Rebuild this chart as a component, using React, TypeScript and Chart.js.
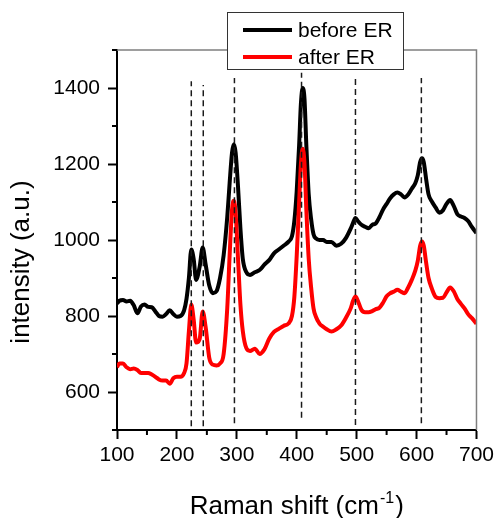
import React, { useEffect, useRef } from "react";
import { Chart, registerables } from "chart.js";

Chart.register(...registerables);

// ---- data ----
const ramanShift = [
  100, 104, 110, 116, 122, 128, 134, 140, 146, 152, 158, 164, 170, 176, 182, 188, 194, 200, 206, 212,
  216, 220, 224, 228, 232, 238, 243, 248, 254, 260, 266, 272, 278, 284, 288, 292, 295, 298, 302, 306,
  310, 316, 322, 330, 338, 346, 354, 362, 370, 378, 386, 392, 396, 400, 404, 407, 410, 413, 416, 420,
  424, 428, 432, 438, 444, 450, 458, 466, 474, 482, 490, 494, 498, 502, 508, 514, 520, 526, 532, 538,
  544, 550, 556, 562, 568, 574, 580, 586, 592, 598, 602, 606, 609, 612, 616, 620, 626, 632, 638, 644,
  650, 656, 662, 668, 674, 680, 686, 692, 700,
];

const beforeER = [
  833, 840, 842, 838, 840, 828, 807, 825, 830, 824, 823, 812, 800, 798, 805, 815, 805, 798, 800, 815,
  845, 900, 975, 950, 895, 930, 980, 935, 880, 860, 865, 900, 960, 1060, 1150, 1230, 1252, 1230, 1140, 1030,
  950, 915, 908, 915, 921, 935, 947, 965, 975, 985, 995, 1010, 1050, 1130, 1250, 1360, 1400, 1370, 1250, 1120,
  1055, 1015, 1004, 1000, 1000, 995, 995, 985, 990, 1005, 1030, 1045, 1058, 1050, 1040, 1035, 1031, 1040, 1044, 1060,
  1080, 1095, 1110, 1120, 1125, 1120, 1112, 1120, 1135, 1150, 1170, 1205, 1215, 1205, 1160, 1120, 1100, 1085, 1072, 1078,
  1095, 1105, 1090, 1068, 1062, 1058, 1050, 1035, 1018,
];

const afterER = [
  665, 675, 675, 665, 660, 662, 658, 650, 650, 650, 646, 640, 633, 630, 630, 622, 636, 640, 640, 650,
  675, 760, 830, 790, 730, 740, 812, 770, 690, 672, 670, 675, 700, 820, 960, 1080, 1103, 1070, 950, 830,
  760, 715, 708, 714, 700, 712, 740, 758, 766, 774, 780, 800, 850, 960, 1100, 1200, 1240, 1200, 1080, 950,
  875, 820, 798, 780, 772, 765, 759, 765, 775, 795, 820, 840, 851, 840, 816, 810, 810, 813, 818, 822,
  835, 852, 860, 864, 869, 864, 860, 875, 895, 920, 945, 985, 996, 985, 940, 900, 870, 850, 847, 848,
  862, 875, 865, 845, 832, 820, 805, 795, 780,
];

const seriesLabels = ["before ER", "after ER"];
const seriesColors = ["#000000", "#ff0000"];

const markerShifts = [224, 244, 296, 408, 498, 608];
const markerTops = [1418, 1408, 1426, 1440, 1424, 1426];
const markerBottoms = [510, 510, 518, 532, 513, 518];

const xMajorTicks = [100, 200, 300, 400, 500, 600, 700];
const xMinorTicks = [150, 250, 350, 450, 550, 650];
const yMajorTicks = [600, 800, 1000, 1200, 1400];
const yMinorTicks = [500, 700, 900, 1100, 1300, 1500];

const xTitle = "Raman shift (cm";
const xTitleSup = "-1";
const xTitleEnd = ")";
const yTitle = "intensity (a.u.)";

const FONT = '"Liberation Sans", Arial, sans-serif';

export default function App() {
  const canvasRef = useRef<HTMLCanvasElement | null>(null);

  useEffect(() => {
    document.body.style.margin = "0";
    const canvas = canvasRef.current;
    if (!canvas) return;

    const seriesData = [beforeER, afterER];

    const datasets: any[] = [];
    markerShifts.forEach((s, i) => {
      datasets.push({
        label: "marker" + i,
        data: [
          { x: s, y: markerBottoms[i] },
          { x: s, y: markerTops[i] },
        ],
        borderColor: "#1a1a1a",
        borderWidth: 1.5,
        borderDash: [6, 4],
        pointRadius: 0,
        fill: false,
        order: 0,
      });
    });
    seriesData.forEach((vals, si) => {
      datasets.push({
        label: seriesLabels[si],
        data: ramanShift.map((x, i) => ({ x, y: vals[i] })),
        borderColor: seriesColors[si],
        borderWidth: 4,
        pointRadius: 0,
        fill: false,
        cubicInterpolationMode: "monotone",
        order: 1 + (1 - si),
      });
    });

    const framePlugin = {
      id: "frame",
      afterDraw(chart: any) {
        const { ctx, chartArea, scales } = chart;
        const xs = scales.x;
        const ys = scales.y;
        ctx.save();
        // top & right gray frame
        ctx.strokeStyle = "#7f7f7f";
        ctx.lineWidth = 1.5;
        ctx.beginPath();
        ctx.moveTo(chartArea.left, chartArea.top);
        ctx.lineTo(chartArea.right, chartArea.top);
        ctx.lineTo(chartArea.right, chartArea.bottom);
        ctx.stroke();

        // minor ticks
        ctx.strokeStyle = "#000";
        ctx.lineWidth = 2;
        ctx.beginPath();
        xMinorTicks.forEach((v) => {
          const px = xs.getPixelForValue(v);
          ctx.moveTo(px, chartArea.bottom);
          ctx.lineTo(px, chartArea.bottom + 5);
        });
        yMinorTicks.forEach((v) => {
          const py = ys.getPixelForValue(v);
          ctx.moveTo(chartArea.left, py);
          ctx.lineTo(chartArea.left - 5, py);
        });
        ctx.stroke();

        // axis titles
        ctx.fillStyle = "#000";
        ctx.textBaseline = "alphabetic";
        const big = "26px " + FONT;
        const small = "16px " + FONT;
        ctx.font = big;
        const w1 = ctx.measureText(xTitle).width;
        const w3 = ctx.measureText(xTitleEnd).width;
        ctx.font = small;
        const w2 = ctx.measureText(xTitleSup).width;
        const total = w1 + w2 + w3 + 2;
        const cx = (chartArea.left + chartArea.right) / 2;
        let x0 = cx - total / 2;
        const baseY = 514;
        ctx.textAlign = "left";
        ctx.font = big;
        ctx.fillText(xTitle, x0, baseY);
        ctx.font = small;
        ctx.fillText(xTitleSup, x0 + w1 + 1, baseY - 11);
        ctx.font = big;
        ctx.fillText(xTitleEnd, x0 + w1 + w2 + 2, baseY);

        ctx.save();
        ctx.translate(22, 262);
        ctx.rotate(-Math.PI / 2);
        ctx.textAlign = "center";
        ctx.textBaseline = "middle";
        ctx.font = big;
        ctx.fillText(yTitle, 0, 0);
        ctx.restore();

        // legend
        const lx = 227.5, ly = 12.5, lw = 176, lh = 57;
        ctx.fillStyle = "#fff";
        ctx.fillRect(lx, ly, lw, lh);
        ctx.strokeStyle = "#333";
        ctx.lineWidth = 1;
        ctx.strokeRect(lx, ly, lw, lh);
        ctx.font = "21px " + FONT;
        ctx.textAlign = "left";
        ctx.textBaseline = "middle";
        seriesLabels.forEach((lab, i) => {
          const yy = 30 + i * 27;
          ctx.strokeStyle = seriesColors[i];
          ctx.lineWidth = 4;
          ctx.beginPath();
          ctx.moveTo(243, yy);
          ctx.lineTo(292, yy);
          ctx.stroke();
          ctx.fillStyle = "#000";
          ctx.fillText(lab, 298, yy + 1);
        });
        ctx.restore();
      },
    };

    const chart = new Chart(canvas, {
      type: "line",
      data: { datasets },
      plugins: [framePlugin],
      options: {
        animation: false,
        responsive: false,
        maintainAspectRatio: false,
        layout: { padding: { top: 50, right: 20, left: 0, bottom: 0 } },
        plugins: {
          legend: { display: false },
          tooltip: { enabled: false },
          title: { display: false },
        },
        scales: {
          x: {
            type: "linear",
            min: 100,
            max: 700,
            afterBuildTicks: (scale: any) => {
              scale.ticks = xMajorTicks.map((v) => ({ value: v }));
            },
            afterFit: (scale: any) => {
              scale.height = 88;
            },
            ticks: {
              color: "#000",
              font: { size: 21, family: FONT },
              padding: 4,
              maxRotation: 0,
              autoSkip: false,
              callback: (v: any) => String(v),
            },
            grid: {
              drawOnChartArea: false,
              drawTicks: true,
              tickLength: 9,
              tickWidth: 2,
              tickColor: "#000",
            },
            border: { display: true, color: "#000", width: 2 },
          },
          y: {
            type: "linear",
            min: 500,
            max: 1500,
            afterBuildTicks: (scale: any) => {
              scale.ticks = yMajorTicks.map((v) => ({ value: v }));
            },
            afterFit: (scale: any) => {
              scale.width = 117;
            },
            ticks: {
              color: "#000",
              font: { size: 21, family: FONT },
              padding: 8,
              autoSkip: false,
              callback: (v: any) => String(v),
            },
            grid: {
              drawOnChartArea: false,
              drawTicks: true,
              tickLength: 9,
              tickWidth: 2,
              tickColor: "#000",
            },
            border: { display: true, color: "#000", width: 2 },
          },
        },
      },
    });

    return () => chart.destroy();
  }, []);

  return (
    <div style={{ width: 498, height: 518, background: "#fff" }}>
      <canvas ref={canvasRef} width={498} height={518} style={{ display: "block" }} />
    </div>
  );
}
